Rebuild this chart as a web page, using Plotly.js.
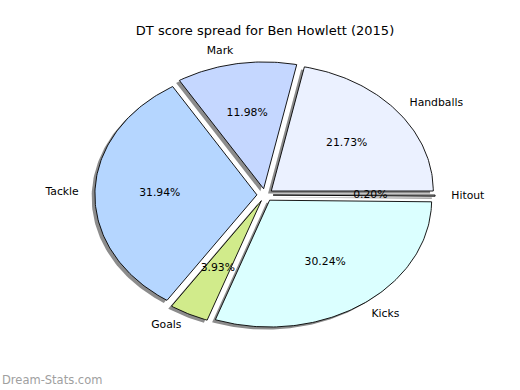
<!DOCTYPE html>
<html><head><meta charset="utf-8">
<script src="https://cdn.plot.ly/plotly-3.0.1.min.js"></script>
<style>html,body{margin:0;padding:0;background:#fff}</style>
</head><body>
<div id="chart" style="width:520px;height:390px"></div>
<script>
const categories = ["Handballs", "Mark", "Tackle", "Goals", "Kicks", "Hitout"];
const values = [21.73, 11.98, 31.94, 3.93, 30.24, 0.20];
const colors = ["#ebf1ff", "#c5d7ff", "#b5d6ff", "#d1eb8b", "#dbffff", "#e6e6e6"];
const chartTitle = "DT score spread for Ben Howlett (2015)";
const watermark = "Dream-Stats.com";

const explode = 0.05, labelDist = 1.1, pctDist = 0.6, shadowOff = -0.02;
const total = values.reduce((a, b) => a + b, 0);
const FONT = "DejaVu Sans, sans-serif";

const shadows = [], wedges = [], texts = [];
let start = 0;
values.forEach((v, i) => {
  const span = v / total * 2 * Math.PI;
  const a0 = start, a1 = start + span, am = (a0 + a1) / 2;
  start = a1;
  const cx = explode * Math.cos(am), cy = explode * Math.sin(am);
  const n = Math.max(4, Math.ceil(span / (Math.PI / 180)));
  const xs = [cx], ys = [cy];
  for (let k = 0; k <= n; k++) {
    const a = a0 + span * k / n;
    xs.push(cx + Math.cos(a)); ys.push(cy + Math.sin(a));
  }
  xs.push(cx); ys.push(cy);
  shadows.push({type: "scatter", mode: "lines", x: xs.map(x => x + shadowOff), y: ys.map(y => y + shadowOff),
    fill: "toself", fillcolor: "#8c8c8c", line: {width: 0, color: "#8c8c8c"}, hoverinfo: "skip", showlegend: false});
  wedges.push({type: "scatter", mode: "lines", x: xs, y: ys, fill: "toself", fillcolor: colors[i],
    line: {width: 0.9, color: "#000"}, hoverinfo: "skip", showlegend: false});
  const lx = cx + labelDist * Math.cos(am), ly = cy + labelDist * Math.sin(am);
  texts.push({type: "scatter", mode: "text", x: [lx], y: [ly], text: [categories[i]],
    textposition: lx > 0 ? "middle right" : "middle left", textfont: {family: FONT, size: 10.8, color: "#000"},
    hoverinfo: "skip", showlegend: false, cliponaxis: false});
  const px = cx + pctDist * Math.cos(am), py = cy + pctDist * Math.sin(am);
  texts.push({type: "scatter", mode: "text", x: [px], y: [py], text: [v.toFixed(2) + "%"],
    textposition: "middle center", textfont: {family: FONT, size: 10.8, color: "#000"},
    hoverinfo: "skip", showlegend: false, cliponaxis: false});
});

const layout = {
  width: 520, height: 390,
  margin: {l: 65, r: 55, t: 39, b: 39},
  paper_bgcolor: "#fff", plot_bgcolor: "#fff",
  showlegend: false, hovermode: false,
  title: {text: chartTitle, font: {family: FONT, size: 13, color: "#000"}, x: 0.5, xref: "paper", y: 1 - 30 / 390, yref: "container", yanchor: "middle"},
  xaxis: {range: [-1.2346, 1.2346], visible: false, fixedrange: true},
  yaxis: {range: [-1.2303, 1.2303], visible: false, fixedrange: true},
  annotations: [{text: watermark, xref: "paper", yref: "paper", x: -65 / 400, y: (390 - 39 - 380) / 312, xanchor: "left", yanchor: "middle",
    showarrow: false, font: {family: FONT, size: 11.5, color: "#a0a0a0"}}]
};
Plotly.newPlot("chart", [...shadows, ...wedges, ...texts], layout, {staticPlot: true});
</script>
</body></html>
